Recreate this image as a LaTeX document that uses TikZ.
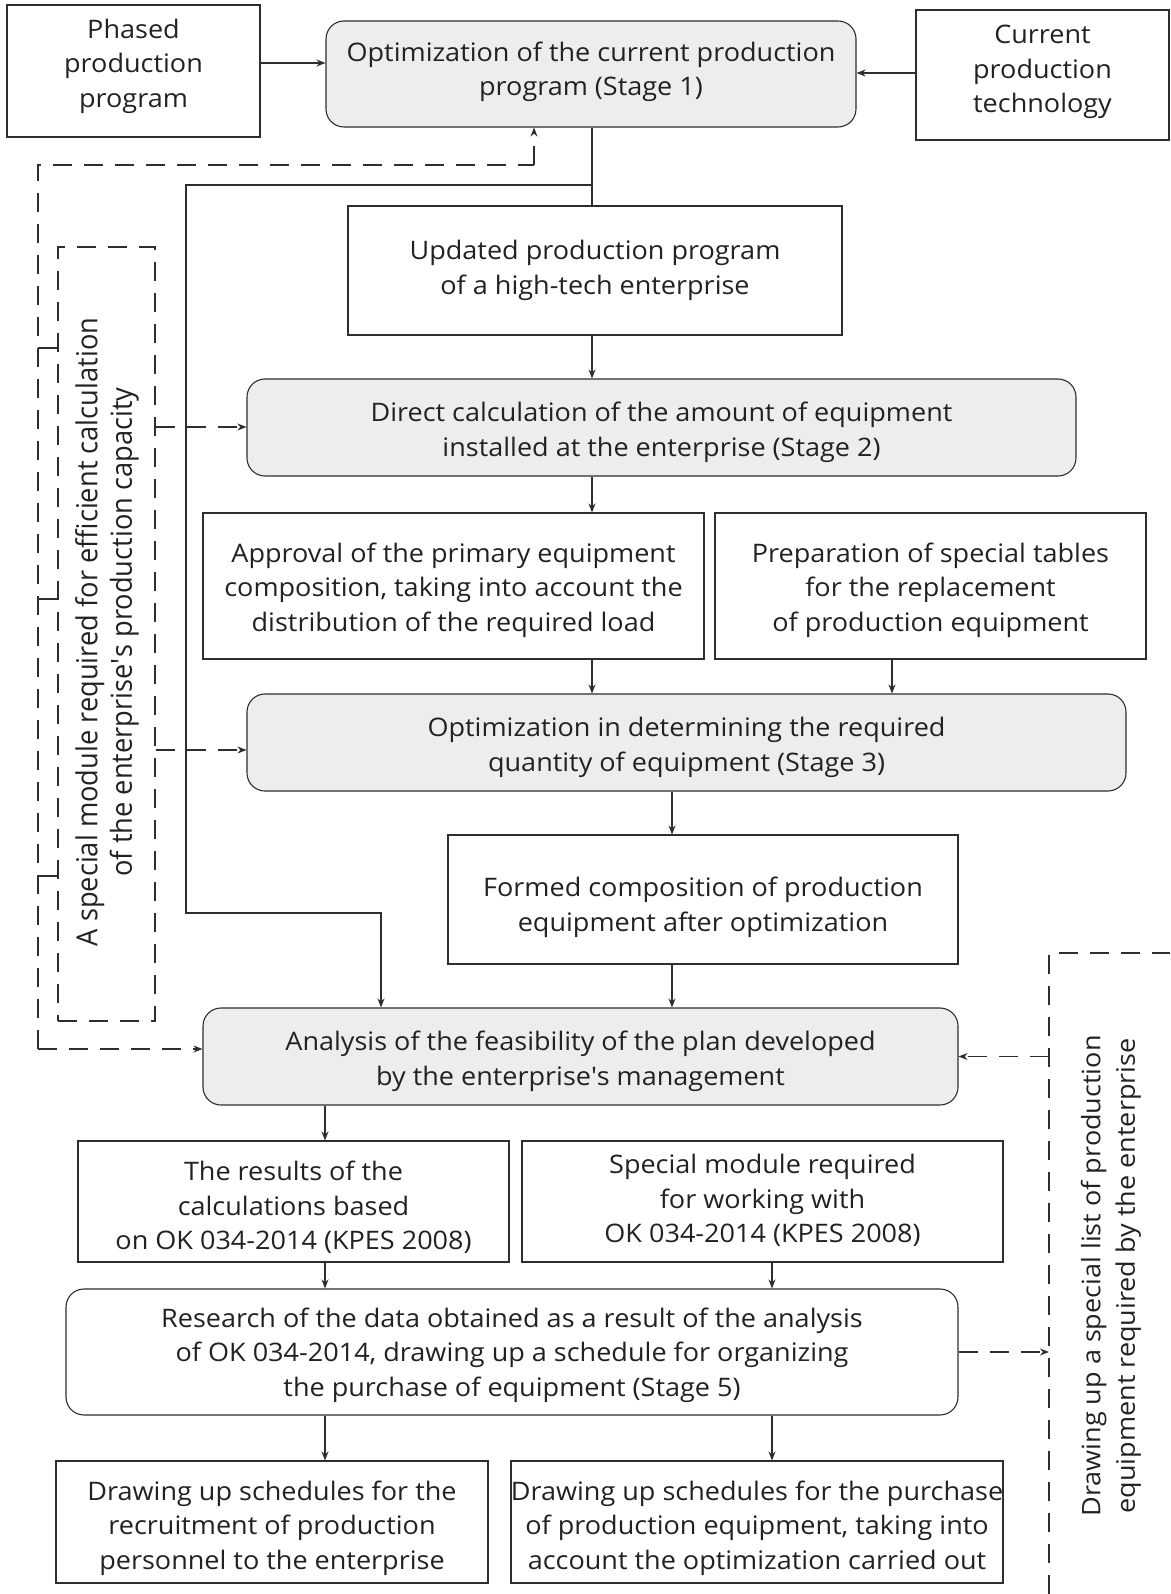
\documentclass[tikz,border=0pt]{standalone}
\usepackage{fontspec}
\setmainfont[FakeStretch=1.06]{Open Sans}
\newfontfamily\condfont[FakeStretch=0.94]{Open Sans}
\usetikzlibrary{arrows.meta,fit}
\definecolor{linec}{HTML}{2E2E2E}
\definecolor{stagefill}{HTML}{EDEDED}
\definecolor{textc}{HTML}{222222}
\newcommand{\mainsz}{\fontsize{25.5}{34.5}\selectfont}
\tikzset{
  base/.style={draw=linec, line width=1.1pt, inner sep=0pt},
  plainbox/.style={base},
  stagebox/.style={base, rounded corners=18pt, fill=stagefill},
  roundbox/.style={base, rounded corners=18pt},
  txt/.style={align=center, font=\mainsz, text=textc, inner sep=0pt},
  conn/.style={line width=1.1pt, draw=linec, -{Stealth[length=9pt,width=7pt]}},
  dline/.style={line width=1.1pt, draw=linec, dash pattern=on 19pt off 12pt},
  darrow/.style={dline, -{Stealth[length=9pt,width=7pt]}},
  tick/.style={line width=1.1pt, draw=linec},
}
% #1 style, #2 name, #3 fit corners, #4 text shift down, #5 text
\newcommand{\bx}[5]{%
  \node[#1, fit={#3}] (#2) {};
  \node[txt, yshift=-#4pt] (#2t) at (#2.center) {#5};}
\begin{document}
\begin{tikzpicture}[x=1pt,y=-1pt]
\useasboundingbox[fill=white] (0,0) rectangle (1170,1594);

% boxes
\bx{plainbox}{ph}{(7,5)(260,137)}{-5}{Phased\\production\\program}
\bx{stagebox}{s1}{(326,21)(856,127)}{-2}{Optimization of the current production\\program (Stage 1)}
\bx{plainbox}{ct}{(916,10)(1169,140)}{-3}{Current\\production\\technology}
\bx{plainbox}{up}{(348,206)(842,335)}{0}{Updated production program\\of a high-tech enterprise}
\bx{stagebox}{s2}{(247,379)(1076,476)}{5}{Direct calculation of the amount of equipment\\installed at the enterprise (Stage 2)}
\bx{plainbox}{ap}{(203,513)(704,659)}{4}{Approval of the primary equipment\\composition, taking into account the\\distribution of the required load}
\bx{plainbox}{pr}{(715,513)(1146,659)}{4}{Preparation of special tables\\for the replacement\\of production equipment}
\bx{stagebox}{s3}{(247,694)(1126,791)}{5}{Optimization in determining the required\\quantity of equipment (Stage 3)}
\bx{plainbox}{fo}{(448,835)(958,964)}{8}{Formed composition of production\\equipment after optimization}
\bx{stagebox}{an}{(203,1008)(958,1105)}{5}{Analysis of the feasibility of the plan developed\\by the enterprise\textquotesingle s management}
\bx{plainbox}{re}{(78,1141)(509,1262)}{6}{The results of the\\calculations based\\on OK 034-2014 (KPES 2008)}
\bx{plainbox}{sm}{(522,1141)(1003,1262)}{-1}{Special module required\\for working with\\OK 034-2014 (KPES 2008)}
\bx{roundbox}{rs}{(66,1289)(958,1415)}{3}{Research of the data obtained as a result of the analysis\\of OK 034-2014, drawing up a schedule for organizing\\the purchase of equipment (Stage 5)}
\bx{plainbox}{dr}{(56,1461)(488,1583)}{6}{Drawing up schedules for the\\recruitment of production\\personnel to the enterprise}
\bx{plainbox}{dp}{(511,1461)(1003,1583)}{6}{Drawing up schedules for the purchase\\of production equipment, taking into\\account the optimization carried out}

% left dashed module box
\node[dline, inner sep=0pt, fit={(58,247)(155,1021)}] (mb) {};
\node[rotate=90, align=center, text=textc, inner sep=0pt, font={\condfont\fontsize{29}{34.5}\selectfont}] (ml) at (107,632)
  {A special module required for efficient calculation\\of the enterprise\textquotesingle s production capacity};

% right label
\node[rotate=90, txt] (rl) at (1111,1276)
  {Drawing up a special list of production\\equipment required by the enterprise};

% coordinates
\coordinate (jn) at (592,185);
\coordinate (jl) at (186,185);
\coordinate (jb) at (186,913);
\coordinate (jr) at (381,913);
\coordinate (otl) at (38,165);
\coordinate (obl) at (38,1049);
\coordinate (oup) at (534,165);
\coordinate (rtop) at (1049,953);
\coordinate (rtopr) at (1170,953);
\coordinate (rbot) at (1049,1594);

% solid connectors
\draw[conn] (ph.east |- 0,63) -- (s1.west |- 0,63);
\draw[conn] (ct.west |- 0,73) -- (s1.east |- 0,73);
\draw[line width=1.1pt, draw=linec] (s1.south -| jn) -- (up.north -| jn);
\draw[conn] (jn) -- (jl) -- (jb) -- (jr) -- (an.north -| jr);
\draw[conn] (up.south -| jn) -- (s2.north -| jn);
\draw[conn] (s2.south -| jn) -- (ap.north -| jn);
\draw[conn] (ap.south -| jn) -- (s3.north -| jn);
\draw[conn] (pr.south -| 892,0) -- (s3.north -| 892,0);
\draw[conn] (s3.south -| 672,0) -- (fo.north -| 672,0);
\draw[conn] (fo.south -| 672,0) -- (an.north -| 672,0);
\draw[conn] (an.south -| 325,0) -- (re.north -| 325,0);
\draw[conn] (re.south -| 325,0) -- (rs.north -| 325,0);
\draw[conn] (sm.south -| 772,0) -- (rs.north -| 772,0);
\draw[conn] (rs.south -| 325,0) -- (dr.north -| 325,0);
\draw[conn] (rs.south -| 772,0) -- (dp.north -| 772,0);

% dashed connectors
\draw[dline] (obl) -- (otl) -- (oup);
\draw[darrow] (oup) -- (s1.south -| oup);
\draw[darrow] (obl) -- (an.west |- obl);
\draw[darrow] (mb.east |- 0,427) -- (s2.west |- 0,427);
\draw[darrow] (mb.east |- 0,750) -- (s3.west |- 0,750);
\foreach \yy in {348,599,876} \draw[tick] (38,\yy) -- (58,\yy);
\draw[dline] (rbot) -- (rtop) -- (rtopr);
\draw[darrow] (rtop |- an.east) -- (an.east);
\draw[darrow] (rs.east) -- (rtop |- rs.east);
\end{tikzpicture}
\end{document}
